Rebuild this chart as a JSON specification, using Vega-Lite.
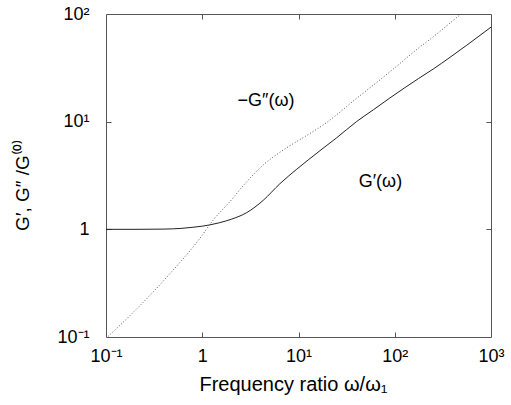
{
  "$schema": "https://vega.github.io/schema/vega-lite/v6.json",
  "width": 385,
  "height": 323,
  "autosize": {"type": "none"},
  "padding": {"left": 106, "top": 14, "right": 20, "bottom": 68},
  "background": "white",
  "config": {
    "view": {"stroke": "#555555", "strokeWidth": 1},
    "font": "Liberation Sans",
    "axis": {
      "domain": false,
      "grid": false,
      "tickColor": "#555555",
      "tickSize": 5,
      "tickWidth": 1,
      "labelFont": "Liberation Sans",
      "labelFontSize": 18,
      "labelColor": "black",
      "titleFont": "Liberation Sans",
      "titleFontSize": 19,
      "titleFontWeight": "normal",
      "titleColor": "black"
    }
  },
  "datasets": {
    "curves": [
      {"w": 0.1, "g": 1.0, "s": "Gp"},
      {"w": 0.2, "g": 1.0, "s": "Gp"},
      {"w": 0.4, "g": 1.005, "s": "Gp"},
      {"w": 0.6, "g": 1.02, "s": "Gp"},
      {"w": 0.8, "g": 1.045, "s": "Gp"},
      {"w": 1.0, "g": 1.07, "s": "Gp"},
      {"w": 1.2, "g": 1.1, "s": "Gp"},
      {"w": 1.5, "g": 1.15, "s": "Gp"},
      {"w": 2.0, "g": 1.24, "s": "Gp"},
      {"w": 2.9, "g": 1.43, "s": "Gp"},
      {"w": 4.3, "g": 1.86, "s": "Gp"},
      {"w": 6.4, "g": 2.65, "s": "Gp"},
      {"w": 9.6, "g": 3.62, "s": "Gp"},
      {"w": 12.6, "g": 4.41, "s": "Gp"},
      {"w": 18, "g": 5.66, "s": "Gp"},
      {"w": 25, "g": 7.1, "s": "Gp"},
      {"w": 40, "g": 10.0, "s": "Gp"},
      {"w": 60, "g": 12.9, "s": "Gp"},
      {"w": 89, "g": 16.6, "s": "Gp"},
      {"w": 176, "g": 25.1, "s": "Gp"},
      {"w": 252, "g": 30.9, "s": "Gp"},
      {"w": 375, "g": 39.6, "s": "Gp"},
      {"w": 560, "g": 51.3, "s": "Gp"},
      {"w": 1000, "g": 75.5, "s": "Gp"},
      {"w": 0.1, "g": 0.097, "s": "Gpp"},
      {"w": 0.19, "g": 0.168, "s": "Gpp"},
      {"w": 0.43, "g": 0.361, "s": "Gpp"},
      {"w": 0.95, "g": 0.83, "s": "Gpp"},
      {"w": 1.3, "g": 1.22, "s": "Gpp"},
      {"w": 1.94, "g": 1.81, "s": "Gpp"},
      {"w": 2.9, "g": 2.77, "s": "Gpp"},
      {"w": 4.3, "g": 3.96, "s": "Gpp"},
      {"w": 6.4, "g": 5.19, "s": "Gpp"},
      {"w": 8.8, "g": 6.24, "s": "Gpp"},
      {"w": 12.6, "g": 7.59, "s": "Gpp"},
      {"w": 18.1, "g": 9.33, "s": "Gpp"},
      {"w": 40.3, "g": 16.5, "s": "Gpp"},
      {"w": 89.3, "g": 29.1, "s": "Gpp"},
      {"w": 176, "g": 48.1, "s": "Gpp"},
      {"w": 252, "g": 61.5, "s": "Gpp"},
      {"w": 476, "g": 98, "s": "Gpp"},
      {"w": 490, "g": 100, "s": "Gpp"}
    ],
    "labels": [
      {"w": 4.6, "g": 15.5, "t": "−G″(ω)"},
      {"w": 71, "g": 2.75, "t": "G′(ω)"}
    ]
  },
  "layer": [
    {
      "data": {"name": "curves"},
      "transform": [{"filter": "datum.s == 'Gp'"}],
      "mark": {"type": "line", "color": "#222222", "strokeWidth": 1, "interpolate": "monotone", "clip": true},
      "encoding": {
        "x": {
          "field": "w", "type": "quantitative",
          "scale": {"type": "log", "domain": [0.1, 1000], "nice": false},
          "axis": {
            "orient": "bottom",
            "values": [0.1, 1, 10, 100, 1000],
            "ticks": false,
            "labelExpr": "datum.value < 0.5 ? '10⁻¹' : datum.value < 5 ? '1' : datum.value < 50 ? '10¹' : datum.value < 500 ? '10²' : '10³'",
            "labelPadding": 10,
            "labelFlush": false,
            "title": "Frequency ratio ω/ω₁",
            "titleFontSize": 20,
            "titleX": 187,
            "titleY": 53,
            "titleBaseline": "alphabetic"
          }
        },
        "y": {
          "field": "g", "type": "quantitative",
          "scale": {"type": "log", "domain": [0.1, 100], "nice": false},
          "axis": {
            "orient": "left",
            "values": [0.1, 1, 10, 100],
            "ticks": false,
            "labelExpr": "datum.value < 0.5 ? '10⁻¹' : datum.value < 5 ? '1' : datum.value < 50 ? '10¹' : '10²'",
            "labelPadding": 17,
            "labelFlush": false,
            "title": "G′, G″ /G⁽⁰⁾",
            "titleX": -84,
            "titleY": 171,
            "titleAngle": -90,
            "titleAlign": "center",
            "titleBaseline": "middle"
          }
        }
      }
    },
    {
      "data": {"name": "curves"},
      "transform": [{"filter": "datum.s == 'Gpp'"}],
      "mark": {"type": "line", "color": "#555555", "strokeWidth": 1, "strokeDash": [1, 2], "interpolate": "monotone", "clip": true},
      "encoding": {
        "x": {
          "field": "w", "type": "quantitative",
          "axis": {"orient": "top", "offset": -5, "tickSize": 5, "values": [1, 10, 100], "labels": false, "title": null}
        },
        "y": {
          "field": "g", "type": "quantitative",
          "axis": {"orient": "right", "offset": -5, "tickSize": 5, "values": [1, 10], "labels": false, "title": null}
        }
      }
    },
    {
      "data": {"name": "labels"},
      "mark": {"type": "text", "fontSize": 18, "font": "Liberation Sans", "color": "black", "align": "center", "baseline": "middle"},
      "encoding": {
        "x": {
          "field": "w", "type": "quantitative",
          "axis": {"orient": "bottom", "tickSize": -5, "values": [1, 10, 100], "labels": false, "title": null}
        },
        "y": {
          "field": "g", "type": "quantitative",
          "axis": {"orient": "left", "tickSize": -5, "values": [1, 10], "labels": false, "title": null}
        },
        "text": {"field": "t"}
      }
    }
  ],
  "resolve": {"axis": {"x": "independent", "y": "independent"}}
}
